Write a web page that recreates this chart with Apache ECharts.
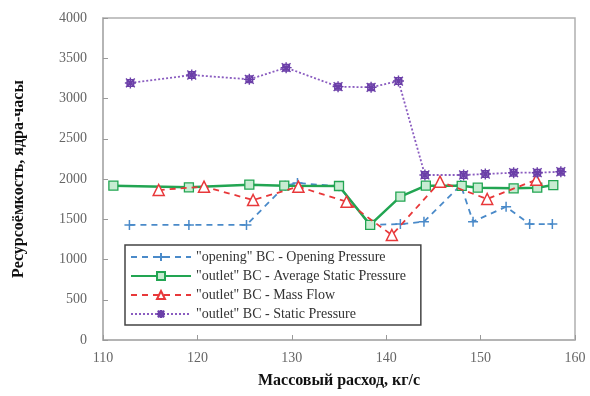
<!DOCTYPE html>
<html><head><meta charset="utf-8">
<script src="https://cdn.jsdelivr.net/npm/echarts@6/dist/echarts.min.js"></script>
<style>html,body{margin:0;padding:0;background:#fff}#c{width:590px;height:396px}</style>
</head><body><div id="c"></div>
<script>
const seriesNames = [
  '"opening" BC - Opening Pressure',
  '"outlet" BC - Average Static Pressure',
  '"outlet" BC - Mass Flow',
  '"outlet" BC - Static Pressure'
];
const openingX = [112.8, 119.1, 125.2, 129.3, 130.6, 135.0, 138.3, 141.5, 144.0, 147.9, 149.2, 152.7, 155.2, 157.6];
const openingY = [1430, 1430, 1430, 1915, 1950, 1910, 1430, 1440, 1470, 1925, 1470, 1655, 1440, 1440];
const avgStaticX = [111.1, 119.1, 125.5, 129.2, 135.0, 138.3, 141.5, 144.2, 148.0, 149.7, 153.5, 156.0, 157.7];
const avgStaticY = [1917, 1897, 1930, 1917, 1913, 1430, 1780, 1917, 1915, 1892, 1884, 1892, 1925];
const massFlowX = [115.9, 120.7, 125.9, 130.7, 135.8, 140.6, 145.7, 150.7, 155.9];
const massFlowY = [1863, 1905, 1739, 1905, 1718, 1304, 1967, 1752, 1990];
const staticX = [112.9, 119.4, 125.5, 129.4, 134.9, 138.4, 141.3, 144.1, 148.2, 150.5, 153.5, 156.0, 158.5];
const staticY = [3193, 3292, 3238, 3383, 3147, 3139, 3217, 2050, 2050, 2062, 2078, 2078, 2090];
const xTicks = [110, 120, 130, 140, 150, 160];
const yTicks = [0, 500, 1000, 1500, 2000, 2500, 3000, 3500, 4000];

const pair = (xs, ys) => xs.map((x, i) => [x, ys[i]]);
const font = '"Liberation Serif", "DejaVu Serif", serif';
const plusPath = 'path://M0,5 L10,5 M5,0 L5,10';
const starPath = 'path://M1,1 L9,9 M9,1 L1,9 M5,0 L5,10 M0,5 L10,5 M2,2 L8,2 L8,8 L2,8 Z';

const chart = echarts.init(document.getElementById('c'), null, {renderer: 'canvas'});
chart.setOption({
  animation: false,
  backgroundColor: '#fff',
  grid: {left: 103, right: 15, top: 18, bottom: 56, show: true, borderColor: '#b0b0b0', borderWidth: 1.5},
  legend: {
    left: 125, top: 245, orient: 'vertical',
    itemWidth: 60, itemHeight: 10, itemGap: 5,
    backgroundColor: '#fff', borderColor: '#444', borderWidth: 1.5, padding: [5, 15, 4, 5],
    textStyle: {fontFamily: font, fontSize: 14, color: '#333'},
    data: seriesNames
  },
  xAxis: {
    type: 'value', min: 110, max: 160, interval: 10,
    name: 'Массовый расход, кг/с', nameLocation: 'middle', nameGap: 33,
    nameTextStyle: {fontFamily: font, fontSize: 16, fontWeight: 'bold', color: '#111'},
    axisLine: {show: true, lineStyle: {color: '#b0b0b0', width: 1.5}},
    axisTick: {show: true, inside: true, length: 5, lineStyle: {color: '#999'}},
    axisLabel: {fontFamily: font, fontSize: 14, color: '#666', margin: 11,
      formatter: v => xTicks.includes(v) ? String(v) : ''},
    splitLine: {show: false}
  },
  yAxis: {
    type: 'value', min: 0, max: 4000, interval: 500,
    name: 'Ресурсоёмкость, ядра-часы', nameLocation: 'middle', nameGap: 76, nameRotate: 90,
    nameTextStyle: {fontFamily: font, fontSize: 16, fontWeight: 'bold', color: '#111'},
    axisLine: {show: true, lineStyle: {color: '#b0b0b0', width: 1.5}},
    axisTick: {show: true, inside: true, length: 5, lineStyle: {color: '#999'}},
    axisLabel: {fontFamily: font, fontSize: 14, color: '#666', margin: 16,
      formatter: v => yTicks.includes(v) ? String(v) : ''},
    splitLine: {show: false}
  },
  series: [
    {
      name: seriesNames[0], type: 'line', data: pair(openingX, openingY), z: 2,
      symbol: plusPath, symbolSize: 10,
      lineStyle: {color: '#4a8ac9', width: 1.8, type: [6, 5]},
      itemStyle: {color: '#4a8ac9', borderColor: '#4a8ac9', borderWidth: 1.5}
    },
    {
      name: seriesNames[1], type: 'line', data: pair(avgStaticX, avgStaticY), z: 3,
      symbol: 'rect', symbolSize: 9,
      lineStyle: {color: '#22a552', width: 2.5},
      itemStyle: {color: '#c8ecd2', borderColor: '#22a552', borderWidth: 1.3}
    },
    {
      name: seriesNames[2], type: 'line', data: pair(massFlowX, massFlowY), z: 4,
      symbol: 'triangle', symbolSize: 11,
      lineStyle: {color: '#e8383a', width: 1.8, type: [6, 5]},
      itemStyle: {color: '#fff', borderColor: '#e8383a', borderWidth: 1.5}
    },
    {
      name: seriesNames[3], type: 'line', data: pair(staticX, staticY), z: 5,
      symbol: starPath, symbolSize: 11,
      lineStyle: {color: '#8a5cc0', width: 1.8, type: [2, 2]},
      itemStyle: {color: '#d6c6ee', borderColor: '#6b3fa8', borderWidth: 1.4}
    }
  ]
});
</script></body></html>
